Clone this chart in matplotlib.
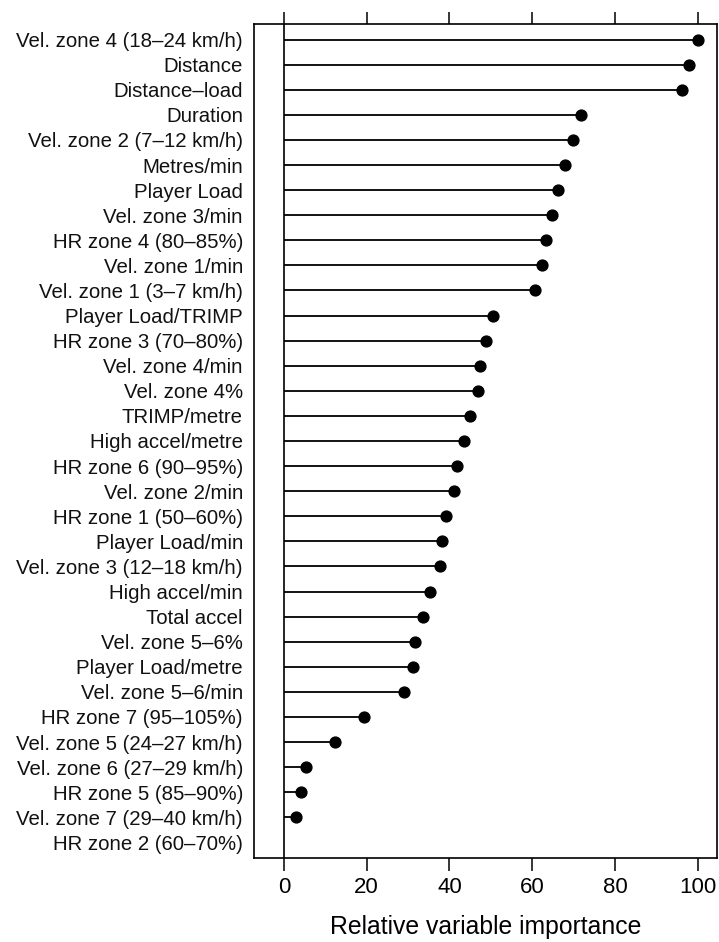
import matplotlib
matplotlib.use("Agg")
from matplotlib import pyplot as plt

plt.rcParams['font.family'] = ['Liberation Sans', 'DejaVu Sans']

variables = [
    "Vel. zone 4 (18\u201324 km/h)", "Distance", "Distance\u2013load", "Duration",
    "Vel. zone 2 (7\u201312 km/h)", "Metres/min", "Player Load", "Vel. zone 3/min",
    "HR zone 4 (80\u201385%)", "Vel. zone 1/min", "Vel. zone 1 (3\u20137 km/h)",
    "Player Load/TRIMP", "HR zone 3 (70\u201380%)", "Vel. zone 4/min", "Vel. zone 4%",
    "TRIMP/metre", "High accel/metre", "HR zone 6 (90\u201395%)", "Vel. zone 2/min",
    "HR zone 1 (50\u201360%)", "Player Load/min", "Vel. zone 3 (12\u201318 km/h)",
    "High accel/min", "Total accel", "Vel. zone 5\u20136%", "Player Load/metre",
    "Vel. zone 5\u20136/min", "HR zone 7 (95\u2013105%)", "Vel. zone 5 (24\u201327 km/h)",
    "Vel. zone 6 (27\u201329 km/h)", "HR zone 5 (85\u201390%)", "Vel. zone 7 (29\u201340 km/h)",
    "HR zone 2 (60\u201370%)",
]
importance = [
    100.0, 97.9, 96.2, 71.8, 69.8, 67.9, 66.2, 64.8, 63.2, 62.4, 60.7,
    50.5, 48.9, 47.3, 47.0, 45.0, 43.6, 41.7, 41.0, 39.2, 38.2, 37.8,
    35.2, 33.5, 31.7, 31.2, 29.1, 19.4, 12.3, 5.4, 4.1, 2.9, 0.0,
]
xticks = [0, 20, 40, 60, 80, 100]

fig = plt.figure(figsize=(7.19, 9.42), dpi=100)
ax = fig.add_axes([0.3533, 0.0892, 0.6439, 0.8853])

pos = list(range(len(variables)))
# HR zone 2 has zero importance: no segment, no dot
shown = [(p, v) for p, v in zip(pos, importance) if v > 0]
for y, v in shown:
    ax.plot([0, v], [y, y], color="black", lw=1.3, solid_capstyle="butt")
ax.plot([v for p, v in shown], [p for p, v in shown], "o", color="black", ms=7.8)
ax.axvline(0, color="black", lw=1.2)

ax.set_xlim(-7.2, 104.6)
ax.set_ylim(32.62, -0.62)
ax.set_yticks(pos)
ax.set_yticklabels(variables, fontsize=14.7, color="#111111")
ax.tick_params(axis="y", length=0, pad=8)
ax.set_xticks(xticks)
ax.set_xticklabels([str(t) for t in xticks], fontsize=16)
ax.tick_params(axis="x", top=True, direction="out", length=9, width=1.1, pad=5)
ax.set_xlabel("Relative variable importance", fontsize=17.8, labelpad=12)
for s in ax.spines.values():
    s.set_linewidth(1.2)

fig.savefig("out.png", dpi=100)
